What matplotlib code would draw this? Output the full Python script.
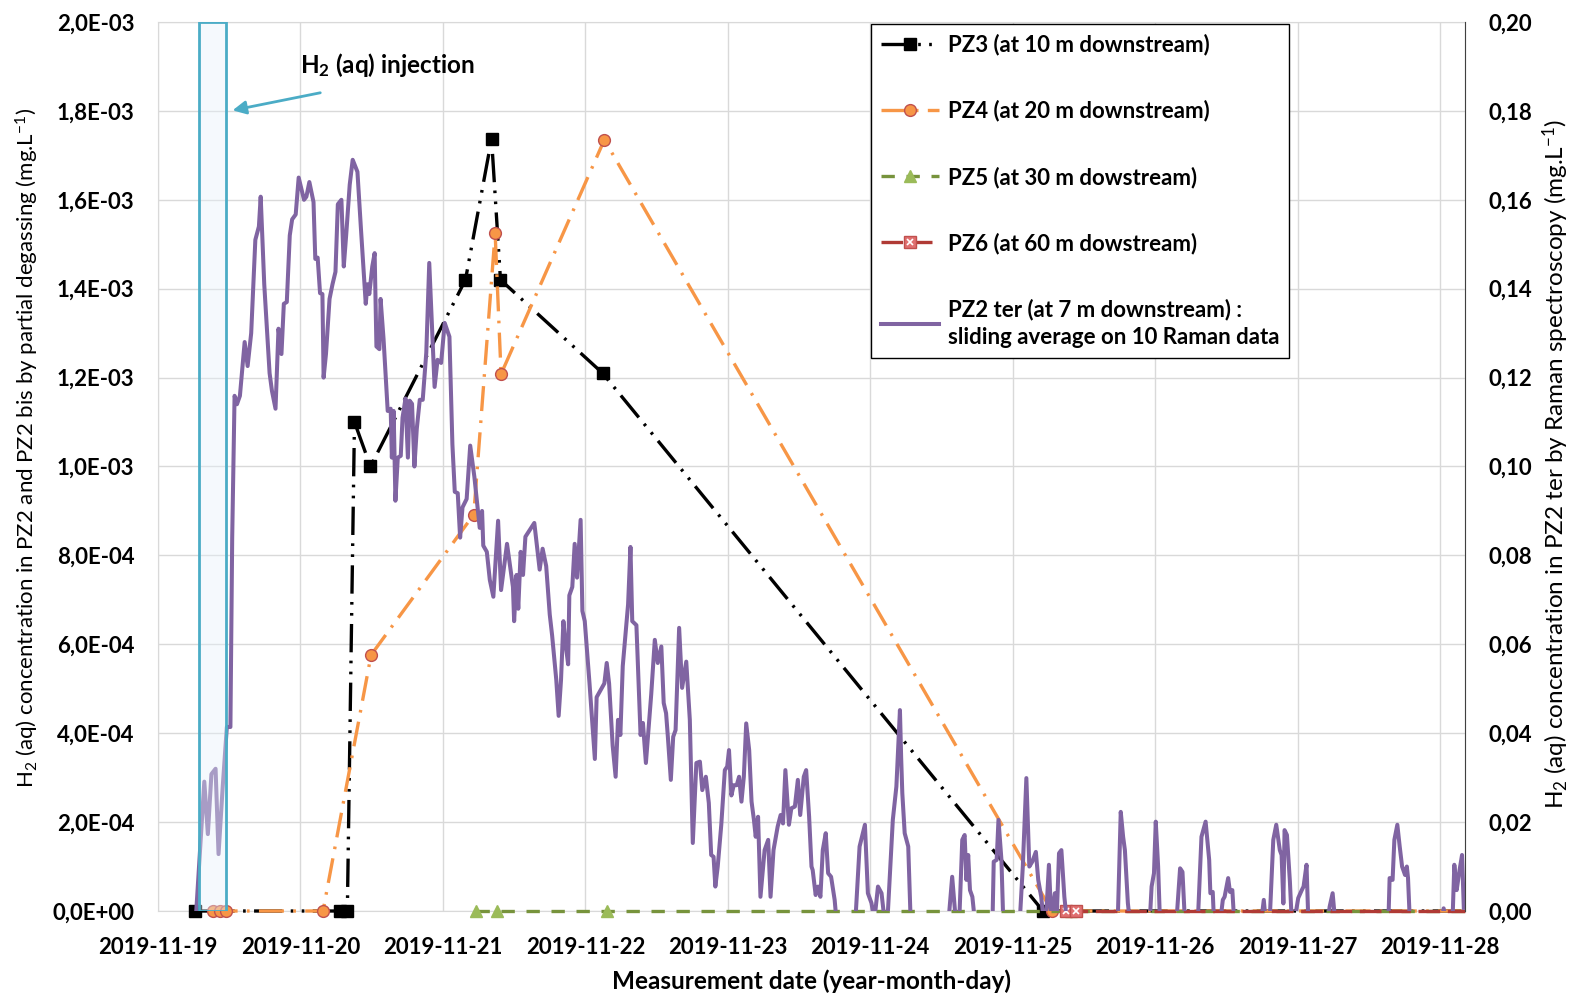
# H2 (aq) injection test - concentration vs time, PZ2..PZ6

import pandas as pd
import matplotlib.pyplot as plt
import matplotlib.dates as mdates
from matplotlib.ticker import FuncFormatter, MultipleLocator
from matplotlib.legend_handler import HandlerTuple

plt.rcParams['font.family'] = ['Lato', 'DejaVu Sans']
plt.rcParams['mathtext.fontset'] = 'custom'
plt.rcParams['mathtext.rm'] = 'Lato'
plt.rcParams['mathtext.bf'] = 'Lato:bold'
plt.rcParams['mathtext.it'] = 'Lato:italic'

start = pd.Timestamp('2019-11-19')

# hours since 2019-11-19 00:00 / concentration (mg/L), left axis
pz3_h = [6.3, 30.6, 31.9, 33.1, 35.8, 51.8, 56.2, 57.7, 74.9, 149.1, 220.2]
pz3_v = [0, 0, 0, 1.10e-3, 1.00e-3, 1.42e-3, 1.737e-3, 1.42e-3, 1.21e-3, 0, 0]
pz4_h = [9.2, 10.4, 11.5, 27.8, 35.9, 53.2, 56.8, 57.8, 75.2, 150.6, 220.2]
pz4_v = [0, 0, 0, 0, 0.576e-3, 0.892e-3, 1.525e-3, 1.208e-3, 1.735e-3, 0, 0]
pz5_h = [53.6, 57.1, 75.6, 153.8, 220.2]
pz5_v = [0, 0, 0, 0, 0]
pz6_h = [152.9, 154.6, 220.2]
pz6_v = [0, 0, 0]

# PZ2 ter, Raman sliding average (right axis, mg/L)
pz2_h = [
    6.4, 7.8, 8.4, 9.0, 9.7, 10.2, 10.9, 11.6, 12.2, 12.5,
    12.9, 13.3, 13.8, 14.6, 15.1, 15.7, 16.4, 17.0, 17.3, 17.9,
    18.8, 19.2, 19.8, 20.3, 20.8, 21.2, 21.7, 22.2, 22.6, 23.2,
    23.7, 24.6, 25.0, 25.5, 26.2, 26.5, 26.9, 27.3, 27.7, 27.9,
    28.3, 28.9, 29.4, 29.9, 30.3, 30.9, 31.3, 31.7, 32.3, 32.8,
    33.6, 34.2, 35.0, 35.3, 35.6, 36.1, 36.5, 36.8, 37.3, 37.5,
    38.0, 38.7, 39.2, 39.4, 39.7, 40.0, 40.4, 40.9, 41.2, 41.7,
    42.1, 42.4, 42.8, 43.2, 43.6, 44.1, 44.6, 45.2, 45.7, 46.6,
    47.1, 47.7, 48.3, 49.1, 49.6, 50.0, 50.5, 50.9, 51.3, 52.0,
    52.6, 53.3, 53.9, 54.2, 54.6, 54.8, 55.4, 55.9, 56.5, 57.3,
    57.8, 58.8, 59.8, 60.0, 60.4, 60.7, 61.1, 61.5, 61.9, 63.4,
    64.3, 64.8, 65.4, 66.0, 66.4, 67.1, 67.5, 67.9, 68.3, 68.7,
    69.1, 69.3, 69.8, 70.2, 70.6, 71.2, 71.5, 71.9, 72.7, 73.6,
    73.9, 75.2, 75.6, 76.0, 76.6, 77.1, 77.5, 77.9, 78.3, 79.2,
    79.6, 79.9, 80.6, 81.3, 81.7, 82.2, 83.1, 83.7, 84.2, 84.8,
    85.2, 85.6, 85.9, 86.4, 86.8, 87.2, 87.8, 88.3, 89.0, 89.6,
    90.1, 90.7, 91.3, 91.7, 92.3, 92.8, 93.2, 93.6, 93.9, 94.3,
    94.9, 95.5, 95.9, 96.2, 96.6, 97.0, 97.5, 97.9, 98.3, 98.7,
    99.1, 99.6, 100.0, 100.4, 100.7, 101.1, 101.5, 102.2, 102.8, 103.2,
    103.7, 104.4, 104.9, 105.3, 105.7, 106.3, 106.7, 107.3, 107.8, 108.2,
    108.8, 109.2, 109.7, 110.1, 110.3, 110.8, 111.2, 111.6, 112.0, 112.5,
    112.9, 113.4, 114.0, 114.3, 117.5, 118.2, 119.1, 119.6, 120.2, 120.7,
    121.3, 121.9, 122.4, 122.9, 123.8, 124.4, 125.0, 125.2, 125.4, 125.8,
    126.4, 126.8, 133.2, 133.8, 134.4, 135.0, 135.5, 135.9, 136.2, 136.5,
    136.8, 137.2, 137.6, 140.6, 140.8, 141.3, 141.6, 142.1, 142.4, 145.2,
    145.7, 146.3, 146.8, 147.3, 147.9, 148.3, 148.8, 149.2, 149.7, 150.1,
    150.5, 151.1, 151.4, 151.8, 152.2, 152.7, 153.1, 161.7, 162.2, 162.6,
    162.9, 163.4, 163.7, 167.1, 167.4, 167.8, 168.1, 168.5, 168.8, 171.6,
    172.2, 172.6, 173.0, 175.2, 175.8, 176.5, 177.1, 177.3, 177.7, 177.9,
    179.0, 179.4, 179.7, 180.3, 180.6, 181.0, 181.3, 185.9, 186.3, 186.6,
    187.3, 187.9, 188.4, 189.0, 189.3, 189.6, 189.8, 190.2, 190.7, 191.0,
    191.5, 192.1, 192.7, 193.0, 193.5, 193.8, 197.1, 197.4, 197.9, 198.3,
    207.3, 207.5, 208.0, 208.3, 208.8, 209.2, 209.6, 210.1, 210.4, 210.6,
    210.9, 216.3, 216.6, 217.0, 218.1, 218.4, 218.8, 219.2, 219.7, 220.0,
]
pz2_v = [
    -0.001, 0.0291, 0.0173, 0.0308, 0.032, 0.0128, 0.0279, 0.0414, 0.0414, 0.0839,
    0.1159, 0.114, 0.1159, 0.128, 0.1226, 0.130, 0.151, 0.154, 0.1607, 0.141,
    0.121, 0.117, 0.113, 0.131, 0.1253, 0.1366, 0.137, 0.152, 0.1556, 0.1567,
    0.165, 0.160, 0.1607, 0.164, 0.1595, 0.1467, 0.147, 0.139, 0.1388, 0.120,
    0.1253, 0.1377, 0.141, 0.1438, 0.159, 0.160, 0.145, 0.152, 0.1634, 0.169,
    0.1663, 0.1533, 0.1366, 0.141, 0.1388, 0.145, 0.148, 0.127, 0.1264, 0.1377,
    0.1287, 0.1125, 0.113, 0.102, 0.1125, 0.0923, 0.102, 0.1024, 0.111, 0.1153,
    0.102, 0.1148, 0.1141, 0.100, 0.1085, 0.115, 0.115, 0.1256, 0.1458, 0.1179,
    0.124, 0.1233, 0.1323, 0.1292, 0.105, 0.0943, 0.094, 0.084, 0.0908, 0.0927,
    0.1047, 0.0977, 0.090, 0.0862, 0.090, 0.0822, 0.0808, 0.0745, 0.0707, 0.0878,
    0.0722, 0.0826, 0.0729, 0.0652, 0.0756, 0.068, 0.0808, 0.0756, 0.0842, 0.0873,
    0.0768, 0.0815, 0.0776, 0.0667, 0.062, 0.052, 0.0439, 0.052, 0.0652, 0.0597,
    0.0555, 0.071, 0.0729, 0.0826, 0.075, 0.088, 0.0675, 0.0652, 0.0512, 0.0342,
    0.0481, 0.0512, 0.0558, 0.0512, 0.0372, 0.0302, 0.043, 0.0396, 0.0551, 0.069,
    0.0819, 0.0652, 0.0643, 0.0396, 0.0423, 0.0333, 0.0488, 0.061, 0.0558, 0.0595,
    0.0468, 0.0445, 0.0392, 0.0295, 0.0392, 0.0407, 0.0637, 0.0502, 0.0561, 0.043,
    0.0153, 0.0333, 0.0336, 0.0272, 0.0302, 0.0243, 0.0126, 0.0122, 0.0055, 0.010,
    0.0194, 0.0317, 0.0325, 0.0362, 0.026, 0.0283, 0.0283, 0.0302, 0.0246, 0.0302,
    0.0422, 0.0362, 0.0246, 0.0205, 0.0167, 0.0212, 0.0032, 0.0137, 0.016, 0.0032,
    0.0137, 0.019, 0.0216, 0.0197, 0.0317, 0.0194, 0.0231, 0.0235, 0.0295, 0.0216,
    0.0302, 0.0317, 0.0212, 0.010, 0.0092, 0.0036, 0.0055, 0.0032, 0.0137, 0.0175,
    0.0085, 0.0077, 0.0025, -0.002, -0.002, 0.0145, 0.0194, 0.004, 0.0018, -0.002,
    0.0055, 0.004, -0.002, -0.002, 0.0205, 0.028, 0.0452, 0.0347, 0.0265, 0.0175,
    0.0145, -0.002, -0.002, 0.0077, -0.002, -0.002, 0.016, 0.0171, 0.007, 0.0126,
    0.0047, 0.0032, -0.002, -0.002, 0.0111, 0.0115, 0.0205, 0.0115, -0.002, -0.002,
    0.010, 0.0299, 0.010, 0.0111, 0.0133, 0.007, 0.0032, -0.002, 0.0005, 0.0104,
    -0.002, 0.004, -0.002, 0.013, 0.0137, 0.0032, -0.002, -0.002, 0.0223, 0.0167,
    0.0137, 0.0018, -0.002, -0.002, 0.0055, 0.0085, 0.0201, 0.010, -0.002, -0.002,
    0.0096, 0.0088, -0.002, -0.002, 0.0167, 0.0201, 0.0115, 0.004, 0.0043, -0.002,
    -0.002, 0.0025, 0.0032, 0.0074, 0.0043, 0.0047, -0.002, -0.002, 0.0025, -0.002,
    -0.002, 0.016, 0.0194, 0.0137, 0.0126, 0.0017, 0.0182, 0.0171, 0.0066, -0.002,
    -0.002, 0.0029, 0.0047, 0.0055, 0.0104, -0.002, -0.002, 0.001, 0.004, -0.002,
    -0.002, 0.0074, 0.007, 0.016, 0.0194, 0.0145, 0.010, 0.0081, 0.010, 0.0074,
    -0.002, -0.002, 0.0006, -0.002, -0.002, 0.0104, 0.0047, 0.0085, 0.0126, 0.0007,
]

x_end_h = 220.2
injection_h = (6.9, 11.4)


def to_dates(hours):
    return start + pd.to_timedelta(hours, unit='h')


FS = 16
fig = plt.figure(figsize=(15.73, 9.97), dpi=100)
ax = fig.add_axes([158 / 1573, 1 - 911 / 997, (1465 - 158) / 1573, (911 - 22) / 997])
ax2 = ax.twinx()

lw = 2.4
l3, = ax.plot(to_dates(pz3_h), pz3_v, color='black', lw=lw, dashes=(8.5, 2.5, 0.8, 2.5, 0.8, 2.5),
              marker='s', ms=8.5, markevery=slice(0, -1), clip_on=False, zorder=3)
l4, = ax.plot(to_dates(pz4_h), pz4_v, color='#F79646', lw=lw, dashes=(7.5, 2.8, 0.8, 2.8),
              marker='o', ms=8.5, mfc='#F79646', mec='#C0504D', mew=1,
              markevery=slice(0, -1), clip_on=False, zorder=3)
l5, = ax.plot(to_dates(pz5_h), pz5_v, color='#77933C', lw=lw, dashes=(4, 3.5),
              marker='^', ms=8.5, mfc='#9BBB59', mec='#9BBB59',
              markevery=slice(0, -1), clip_on=False, zorder=3)
l6, = ax.plot(to_dates(pz6_h), pz6_v, color='#B03A35', lw=lw, dashes=(6.5, 2.3),
              marker='s', ms=8.5, mfc='#E07070', mec='#C0504D', mew=1,
              markevery=slice(0, -1), clip_on=False, zorder=3)
l6x, = ax.plot(to_dates(pz6_h[:-1]), pz6_v[:-1], ls='none', marker='x', ms=5,
               mec='white', mew=1.2, clip_on=False, zorder=3)

l2, = ax2.plot(to_dates(pz2_h), pz2_v, color='#8064A2', lw=2.9, zorder=2)

# injection window
ax2.axvspan(to_dates(injection_h[0]), to_dates(injection_h[1]), ymin=0, ymax=1,
            facecolor=(0.90, 0.95, 0.98, 0.4), edgecolor='#4BACC6', lw=2, zorder=5)
ax.annotate('', xy=(to_dates(12.1), 1.80e-3), xytext=(to_dates(27.8), 1.842e-3),
            arrowprops=dict(arrowstyle='-|>', color='#4BACC6', lw=2, mutation_scale=20),
            annotation_clip=False, zorder=6)
ax.text(to_dates(23.9), 1.885e-3, 'H$_\\mathbf{2}$ (aq) injection', fontsize=17.5,
        fontweight='bold', ha='left', va='baseline')

# axes
ax.set_xlim(start, to_dates(x_end_h))
ax.set_ylim(0, 2.0e-3)
ax2.set_ylim(0, 0.2)
ax.xaxis.set_major_locator(mdates.DayLocator())
ax.xaxis.set_major_formatter(mdates.DateFormatter('%Y-%m-%d'))
ax.yaxis.set_major_locator(MultipleLocator(0.2e-3))
ax2.yaxis.set_major_locator(MultipleLocator(0.02))
ax.yaxis.set_major_formatter(FuncFormatter(lambda v, p: f'{v:.1E}'.replace('.', ',')))
ax2.yaxis.set_major_formatter(FuncFormatter(lambda v, p: f'{v:.2f}'.replace('.', ',')))

ax.grid(True, color='#d9d9d9', lw=1)
ax.set_axisbelow(True)
for s in ['left', 'top', 'bottom', 'right']:
    ax.spines[s].set_color('#d9d9d9')
for s in ['left', 'top', 'bottom']:
    ax2.spines[s].set_visible(False)
ax2.spines['right'].set_color('#404040')

ax.tick_params(axis='x', length=0, pad=19, labelsize=FS)
ax.tick_params(axis='y', length=0, pad=17, labelsize=FS)
ax2.tick_params(axis='y', length=0, pad=17, labelsize=FS)
for t in ax.get_xticklabels() + ax.get_yticklabels() + ax2.get_yticklabels():
    t.set_fontweight('bold')

fig.text(27 / 1573, 1 - 448 / 997,
         'H$_2$ (aq) concentration in PZ2 and PZ2 bis by partial degassing (mg.L$^{-1}$)',
         rotation=90, ha='center', va='center', fontsize=16)
fig.text(1571 / 1573, 1 - 464 / 997,
         'H$_2$ (aq) concentration in PZ2 ter by Raman spectroscopy (mg.L$^{-1}$)',
         rotation=90, ha='right', va='center', fontsize=17.5)
fig.text(812 / 1573, 1 - 981 / 997, 'Measurement date (year-month-day)',
         ha='center', va='center', fontsize=17.5, fontweight='bold')

# legend
handles = [l3, l4, l5, (l6, l6x), l2]
labels = ['PZ3 (at 10 m downstream)', 'PZ4 (at 20 m downstream)',
          'PZ5 (at 30 m dowstream)', 'PZ6 (at 60 m dowstream)',
          'PZ2 ter (at 7 m downstream) :\nsliding average on 10 Raman data']
leg = ax2.legend(handles, labels, loc='upper left', bbox_to_anchor=(871 / 1573, 1 - 24 / 997),
                 bbox_transform=fig.transFigure, borderaxespad=0, frameon=True, fancybox=False,
                 edgecolor='black', framealpha=1, handlelength=2.6,
                 handletextpad=0.4, borderpad=0.45, labelspacing=2.0,
                 handler_map={tuple: HandlerTuple(ndivide=1)},
                 prop={'weight': 'bold', 'size': FS})
leg.get_frame().set_linewidth(1)
leg.get_texts()[-1].set_linespacing(1.4)
leg.set_zorder(10)

fig.savefig('out.png', dpi=100)
